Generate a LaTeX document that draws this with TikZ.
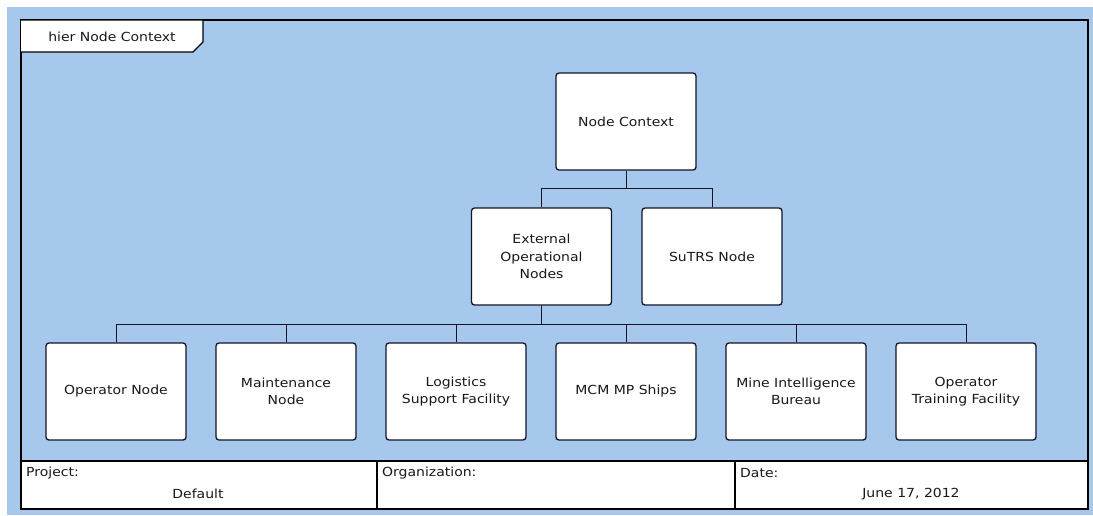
\documentclass[tikz,border=0pt]{standalone}
\usepackage{fontspec}
\setmainfont{DejaVu Sans}[FakeStretch=1.12]
\definecolor{canvasblue}{RGB}{166,200,236}
\definecolor{edge}{RGB}{20,20,40}
\definecolor{ink}{RGB}{25,25,25}
\begin{document}
\begin{tikzpicture}[x=1pt,y=-1pt,
  every node/.style={font=\fontsize{12.5}{17.5}\selectfont, text=ink},
  box/.style={draw=edge, fill=white, rounded corners=3pt, line width=1.3pt,
    minimum width=140pt, minimum height=97pt, align=center, inner sep=2pt},
  link/.style={draw=edge, line width=1pt},
  frameline/.style={draw=black, line width=2.4pt},
  field/.style={anchor=west, inner sep=0pt}]
  % page and background
  \useasboundingbox (0,0) rectangle (1093,515);
  \fill[white] (0,0) rectangle (1093,515);
  \fill[canvasblue] (7,7) rectangle (1093,515);

  % diagram frame with title tab
  \draw[frameline] (21,20) rectangle (1088,509);
  \draw[black, line width=1.4pt, fill=white] (21,20) -- (203,20) -- (203,42) -- (193,52) -- (21,52);
  \node (title) at (112,37) {hier Node Context};

  % title block at the bottom
  \draw[frameline, fill=white] (21,461) rectangle (1088,509);
  \draw[frameline] (377,461) -- (377,509);
  \draw[frameline] (735,461) -- (735,509);
  \node[field] (project) at (26,473) {Project:};
  \node (projval) at (198,494) {Default};
  \node[field] (org) at (382,473) {Organization:};
  \node[field] (date) at (740,473) {Date:};
  \node (dateval) at (911,494) {June 17, 2012};

  % hierarchy nodes
  \node[box] (root) at (626,121.5) {Node Context};
  \node[box] (ext) at (541.5,256.5) {External\\Operational\\Nodes};
  \node[box] (sutrs) at (712,256.5) {SuTRS Node};

  \node[box] (op)    at (116,391.5) {Operator Node};
  \node[box] (maint) at (286,391.5) {Maintenance\\Node};
  \node[box] (log)   at (456,391.5) {Logistics\\Support Facility};
  \node[box] (mcm)   at (626,391.5) {MCM MP Ships};
  \node[box] (mine)  at (796,391.5) {Mine Intelligence\\Bureau};
  \node[box] (train) at (966,391.5) {Operator\\Training Facility};

  % tree connectors
  \foreach \c in {ext,sutrs}
    \draw[link] (root.south) -- (root.south |- 0,188) -| (\c.north);
  \foreach \c in {op,maint,log,mcm,mine,train}
    \draw[link] (ext.south) -- (ext.south |- 0,324) -| (\c.north);
\end{tikzpicture}
\end{document}
